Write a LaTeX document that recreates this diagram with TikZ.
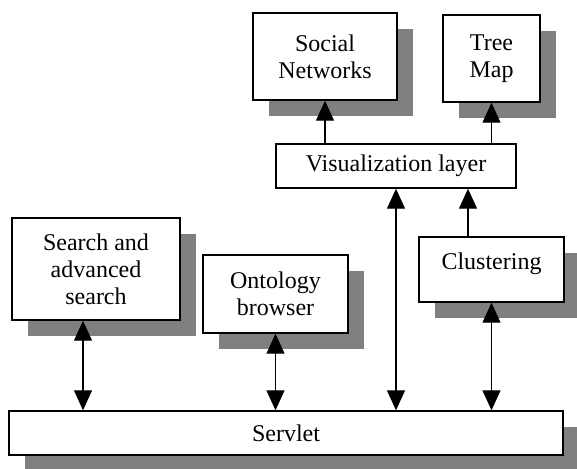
\documentclass[tikz,border=0pt]{standalone}
\usepackage{fontspec}
\setmainfont{Liberation Serif}
\usetikzlibrary{arrows.meta, shadows}

\begin{document}
\begin{tikzpicture}[
    x=0.5pt, y=-0.5pt,
    every node/.style={
        draw,
        rectangle,
        fill=white,
        line width=0.7pt,
        inner sep=0pt,
        align=center,
        font=\fontsize{12}{13.5}\selectfont
    },
    shadowed/.style={drop shadow={shadow xshift=8pt, shadow yshift=-8pt, opacity=1, fill=black!50}},
    link/.style={line width=0.6pt, -{Triangle[width=9pt,length=10pt]}},
    both/.style={line width=0.6pt, {Triangle[width=9pt,length=10pt]}-{Triangle[width=9pt,length=10pt]}}
]
\useasboundingbox (0,0) rectangle (577,468);

% Views on top
\node[shadowed, minimum width=72pt, minimum height=43.5pt] (social) at (325,56.5) {Social\\Networks};
\node[shadowed, minimum width=48.5pt, minimum height=43.5pt] (tree) at (491.5,58.5) {Tree\\Map};
\node[minimum width=120pt, minimum height=22pt] (vis) at (396,166) {Visualization layer};

% Modules
\node[shadowed, minimum width=84pt, minimum height=51pt] (search) at (96,269) {Search and\\advanced\\search};
\node[shadowed, minimum width=72.5pt, minimum height=39pt] (onto) at (275.5,294) {Ontology\\browser};
\node[shadowed, minimum width=72.5pt, minimum height=32.5pt, text height=8pt, text depth=7.75pt] (clust) at (491.5,269.5) {Clustering};

% Back end
\node[shadowed, minimum width=277pt, minimum height=22pt] (servlet) at (286,433) {Servlet};

% Connections
\draw[link] (vis.north -| social) -- (social.south);
\draw[link] (vis.north -| tree) -- (tree.south);
\draw[link] ([xshift=-11.75pt]clust.north) -- ([xshift=-11.75pt]clust.north |- vis.south);
\draw[both] ([xshift=-6.5pt]search.south) -- ([xshift=-6.5pt]search.south |- servlet.north);
\draw[both] (onto.south) -- (onto.south |- servlet.north);
\draw[both] (vis.south) -- (vis.south |- servlet.north);
\draw[both] (clust.south) -- (clust.south |- servlet.north);

\end{tikzpicture}
\end{document}
